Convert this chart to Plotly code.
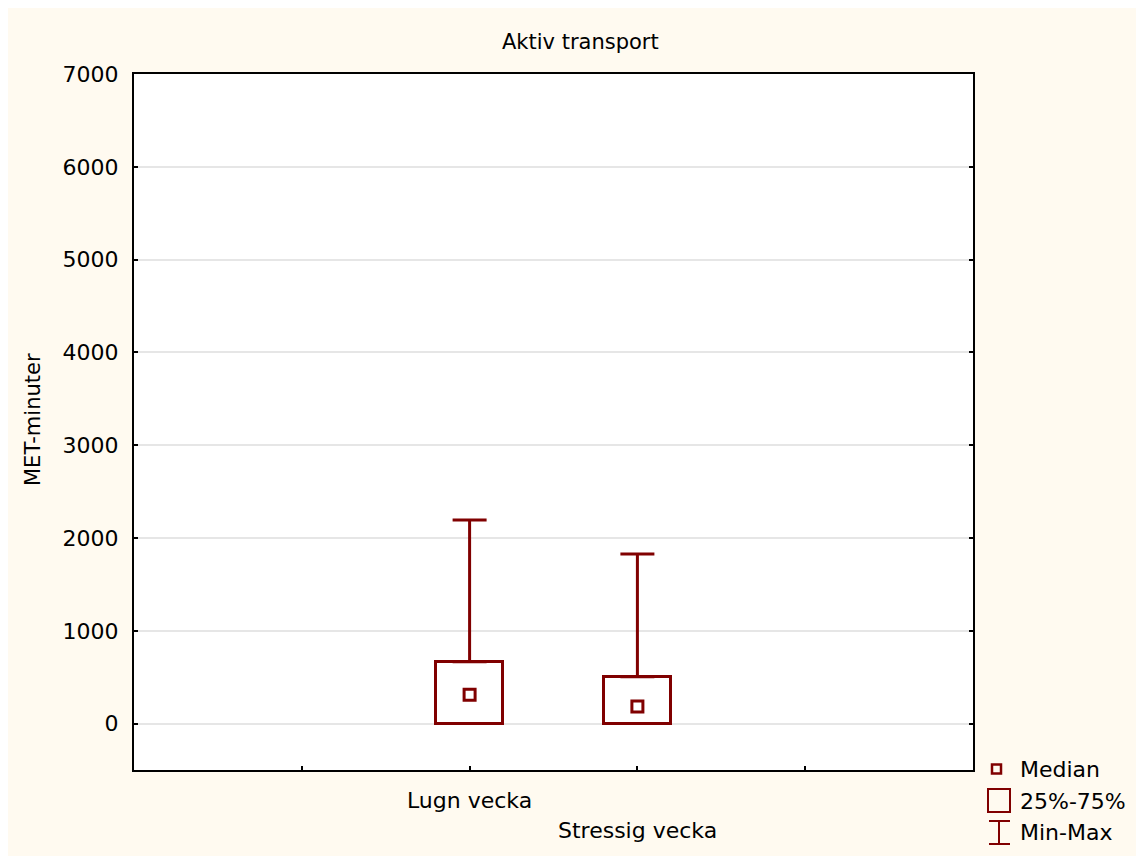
import plotly.graph_objects as go

# ---- data ----
categories = ["Lugn vecka", "Stressig vecka"]
q1 = [0, 0]
median = [312, 183]
q3 = [667, 505]
vmin = [0, 0]
vmax = [2194, 1828]
y_ticks = [0, 1000, 2000, 3000, 4000, 5000, 6000, 7000]

RED = "#800000"
CREAM = "#FFFAF0"
FONT = "DejaVu Sans, Liberation Sans, Arial, sans-serif"

xpos = [i + 2 for i in range(len(categories))]

fig = go.Figure()

# boxes (25%-75%)
fig.add_trace(go.Bar(
    x=xpos, y=[b - a for a, b in zip(q1, q3)], base=q1, width=0.4,
    marker=dict(color="white", line=dict(color=RED, width=3)),
    showlegend=False, hoverinfo="skip"))

# whiskers (Min-Max)
fig.add_trace(go.Scatter(
    x=xpos, y=q3, mode="markers", marker=dict(size=1, color=RED, opacity=0),
    error_y=dict(type="data", array=[m - b for m, b in zip(vmax, q3)],
                 arrayminus=[0, 0], color=RED, thickness=3, width=17),
    showlegend=False, hoverinfo="skip"))
fig.add_trace(go.Scatter(
    x=xpos, y=q1, mode="markers", marker=dict(size=1, color=RED, opacity=0),
    error_y=dict(type="data", array=[0, 0],
                 arrayminus=[a - m for a, m in zip(q1, vmin)], color=RED, thickness=3, width=17),
    showlegend=False, hoverinfo="skip"))

# medians
fig.add_trace(go.Scatter(
    x=xpos, y=median, mode="markers",
    marker=dict(symbol="square-open", size=11, color=RED, line=dict(width=3, color=RED)),
    showlegend=False, hoverinfo="skip"))

# page offset of the figure (body margin)
OFF = 8
# plot area geometry in page px
L, R, T, B = 134, 973, 74, 770
W, H = R - L, B - T
def px(x): return (x - L) / W
def py(y): return (B - y) / H

shapes = []
annotations = []

# category labels (staggered)
for i, (c, xp) in enumerate(zip(categories, xpos)):
    annotations.append(dict(x=xp, xref="x", y=py(800 + 30 * i), yref="paper",
                            text=c, showarrow=False, font=dict(size=22, color="black", family=FONT),
                            xanchor="center", yanchor="middle"))

# title
annotations.append(dict(x=px(580), y=py(42), xref="paper", yref="paper", text="Aktiv transport",
                        showarrow=False, font=dict(size=21, color="black", family=FONT),
                        xanchor="center", yanchor="middle"))
# y axis title
annotations.append(dict(x=px(33), y=py(420), xref="paper", yref="paper", text="MET-minuter",
                        textangle=-90, showarrow=False, font=dict(size=21, color="black", family=FONT),
                        xanchor="center", yanchor="middle"))

# legend
legend_items = ["Median", "25%-75%", "Min-Max"]
leg_y = [769, 801, 832]
for t, yy in zip(legend_items, leg_y):
    annotations.append(dict(x=px(1018), y=py(yy), xref="paper", yref="paper", text=t,
                            showarrow=False, font=dict(size=22, color="black", family=FONT),
                            xanchor="left", yanchor="middle"))
# median symbol
shapes.append(dict(type="rect", xref="paper", yref="paper", x0=px(992), x1=px(1001),
                   y0=py(773.5), y1=py(764.5), line=dict(color=RED, width=2.5)))
# box symbol
shapes.append(dict(type="rect", xref="paper", yref="paper", x0=px(988), x1=px(1010),
                   y0=py(812), y1=py(789), line=dict(color=RED, width=2)))
# whisker symbol
shapes.append(dict(type="line", xref="paper", yref="paper", x0=px(999), x1=px(999),
                   y0=py(845), y1=py(820), line=dict(color=RED, width=2)))
shapes.append(dict(type="line", xref="paper", yref="paper", x0=px(989), x1=px(1010),
                   y0=py(821), y1=py(821), line=dict(color=RED, width=2)))
shapes.append(dict(type="line", xref="paper", yref="paper", x0=px(989), x1=px(1010),
                   y0=py(844), y1=py(844), line=dict(color=RED, width=2)))

fig.update_layout(
    width=1144, height=856,
    margin=dict(l=L - OFF, r=1144 - (R - OFF), t=T - OFF, b=856 - (B - OFF)),
    paper_bgcolor=CREAM, plot_bgcolor="white",
    font=dict(family=FONT, color="black"),
    showlegend=False,
    shapes=shapes, annotations=annotations,
    bargap=0,
)
fig.update_xaxes(range=[0, 5], tickvals=[1, 2, 3, 4], ticktext=["", "", "", ""],
                 ticks="inside", ticklen=4, tickcolor="black", tickwidth=1.5,
                 showline=True, linecolor="black", linewidth=2, mirror=True,
                 showgrid=False, zeroline=False, fixedrange=True)
fig.update_yaxes(range=[-500, 7000], tickvals=y_ticks, ticktext=[str(v) for v in y_ticks],
                 ticks="inside", ticklen=4, tickcolor="black", tickwidth=2,
                 showline=True, linecolor="black", linewidth=2, mirror="ticks",
                 showgrid=True, gridcolor="#E6E6E6", gridwidth=1.5, zeroline=False,
                 tickfont=dict(size=22, family=FONT), ticklabelstandoff=9)

fig.write_html("out.html")
